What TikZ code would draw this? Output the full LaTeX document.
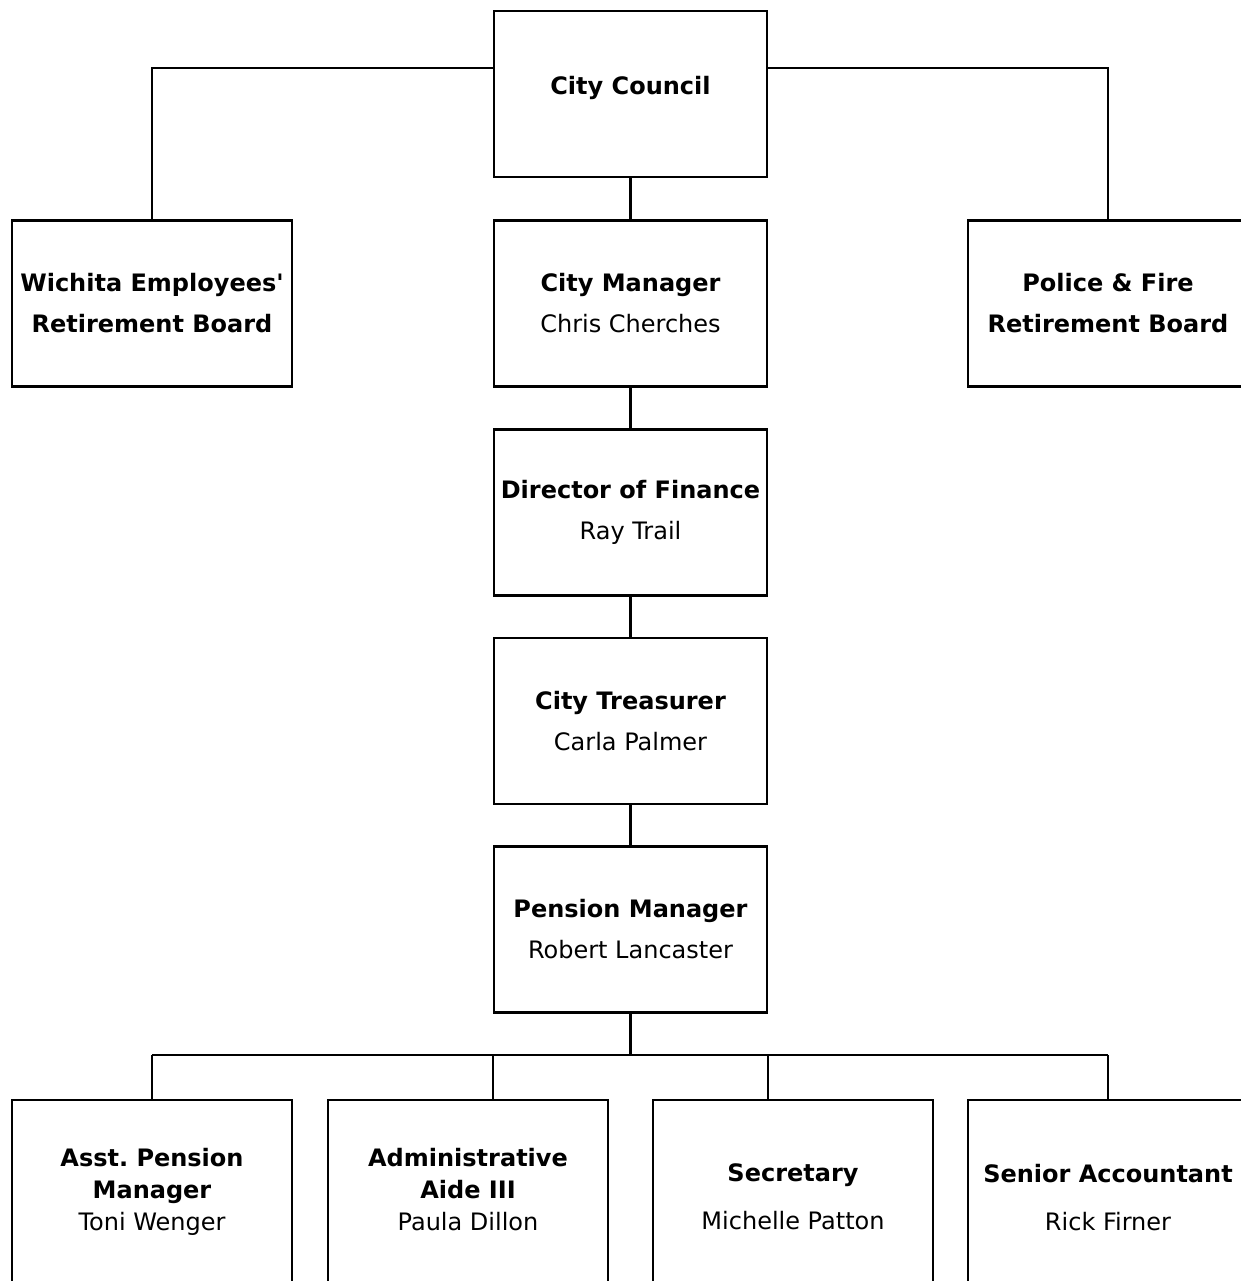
\documentclass[tikz,border=0pt]{standalone}
\usepackage{fontspec}
\setmainfont{DejaVu Sans}
\usetikzlibrary{
	positioning				% relative placement
	, calc
}

\newcommand{\liftup}[2]{\raisebox{#1}[\height][\depth]{#2}}
\newcommand{\stack}[1]{\begin{tabular}{@{}c@{}}#1\end{tabular}}

\begin{document}
\begin{tikzpicture}[
		x=0.5pt, y=-0.5pt
		, post/.style={draw, line width=1.1pt, rectangle, align=center, inner sep=0pt
			, font=\fontsize{12}{16}\selectfont, minimum width=136.5pt, minimum height=83pt}
		, sidepost/.style={post, minimum width=140pt}
		, staffpost/.style={post, minimum width=140pt, minimum height=97pt, anchor=north}
		, link/.style={line width=1.1pt}]

		%%% Page
		\useasboundingbox (0,0) rectangle (1241,1281);
		\clip (0,0) rectangle (1241,1281);

		%%% Chain of command
		\node[post] (council) at (630.5, 94) {\liftup{3pt}{\textbf{City Council}}};
		\node[post] (citymanager) at (630.5, 303.5) {\textbf{City Manager}\\[4.5pt]Chris Cherches};
		\node[post] (finance) at (630.5, 512.5) {\textbf{Director of Finance}\\[4.5pt]Ray Trail};
		\node[post] (treasurer) at (630.5, 721) {\textbf{City Treasurer}\\[4.5pt]Carla Palmer};
		\node[post] (pension) at (630.5, 929.5) {\textbf{Pension Manager}\\[4.5pt]Robert Lancaster};

		%% Boards
		\node[sidepost] (employeesboard) at (152, 303.5) {\textbf{Wichita Employees\textquotesingle}\\[4.5pt]\textbf{Retirement Board}};
		\node[sidepost] (policeboard) at (1108, 303.5) {\textbf{Police \& Fire}\\[4.5pt]\textbf{Retirement Board}};

		%% Pension staff
		\node[staffpost] (assistant) at (152, 1099) {\liftup{2.5pt}{\stack{\textbf{Asst.\ Pension}\\\textbf{Manager}\\Toni Wenger}}};
		\node[staffpost] (aide) at (468, 1099) {\liftup{2.5pt}{\stack{\textbf{Administrative}\\\textbf{Aide III}\\Paula Dillon}}};
		\node[staffpost] (secretary) at (793, 1099) {\textbf{Secretary}\\[8pt]Michelle Patton};
		\node[staffpost] (accountant) at (1108, 1099) {\textbf{Senior Accountant}\\[8pt]Rick Firner};

		%%% Links
		%% Council
		\draw[link] (council.west |- 0,68) -| (employeesboard.north);
		\draw[link] (council.east |- 0,68) -| (policeboard.north);
		\draw[link] (council) -- (citymanager);
		\draw[link] (citymanager) -- (finance);
		\draw[link] (finance) -- (treasurer);
		\draw[link] (treasurer) -- (pension);

		%% Pension Manager
		\draw[link] (pension.south) -- (pension.south |- 0,1055);
		\draw[link] (assistant.north |- 0,1055) -- (accountant.north |- 0,1055);
		\draw[link] (assistant.north |- 0,1055) -- (assistant.north);
		\draw[link] (pension.south west |- 0,1055) -- (pension.south west |- aide.north);
		\draw[link] (pension.south east |- 0,1055) -- (pension.south east |- secretary.north);
		\draw[link] (accountant.north |- 0,1055) -- (accountant.north);
	\end{tikzpicture}
\end{document}
